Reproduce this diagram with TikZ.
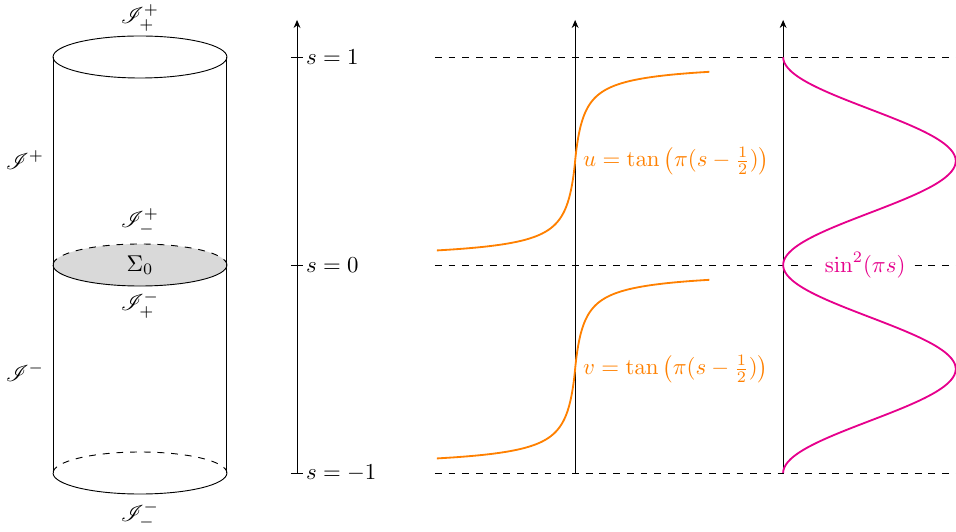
\documentclass[tikz,border=0pt]{standalone}
\usepackage{amsmath}
\usepackage{amssymb}
\usepackage{mathrsfs}
\definecolor{myOrange}{RGB}{255,128,0}
\definecolor{myPink}{RGB}{230,0,140}
\usetikzlibrary{arrows.meta, positioning, calc}

\begin{document}
\begin{tikzpicture}[x=3.2cm, y=3.2cm,
  >={Stealth[length=3.5pt, width=3pt]},
  axis/.style={->, thin},
  guide/.style={dashed, thin},
  ring/.style={thin},
  lbl/.style={inner sep=2pt},
  tancurve/.style={myOrange, thick, domain=-0.43:0.43, samples=160, smooth},
  sincurve/.style={myPink, thick, domain=-1:1, samples=150, smooth}]
  \useasboundingbox (-1.428,-1.279) rectangle (3.168,1.274);

  % cylinder
  \def\cx{-0.755} \def\rx{0.418} \def\ry{0.101}
  \draw[ring] (\cx,1) ellipse [x radius=\rx, y radius=\ry];
  \fill[gray!30] (\cx,0) ellipse [x radius=\rx, y radius=\ry];
  \draw[ring] (\cx-\rx,0) arc[start angle=180, end angle=360, x radius=\rx, y radius=\ry];
  \draw[ring, dashed] (\cx+\rx,0) arc[start angle=0, end angle=180, x radius=\rx, y radius=\ry];
  \draw[ring] (\cx-\rx,-1) arc[start angle=180, end angle=360, x radius=\rx, y radius=\ry];
  \draw[ring, dashed] (\cx+\rx,-1) arc[start angle=0, end angle=180, x radius=\rx, y radius=\ry];
  \draw[ring] (\cx-\rx,1) -- (\cx-\rx,-1);
  \draw[ring] (\cx+\rx,1) -- (\cx+\rx,-1);

  \node[lbl] (scriTop) at (\cx,1.188) {$\mathscr{I}^+_+$};
  \node[lbl] (scriPlus) at (-1.308,0.505) {$\mathscr{I}^+$};
  \node[lbl] (scriMidUp) at (\cx,0.207) {$\mathscr{I}^+_-$};
  \node[lbl] (sigma) at (\cx,0) {$\Sigma_0$};
  \node[lbl] (scriMidDn) at (\cx,-0.192) {$\mathscr{I}^-_+$};
  \node[lbl] (scriMinus) at (-1.308,-0.514) {$\mathscr{I}^-$};
  \node[lbl] (scriBot) at (\cx,-1.202) {$\mathscr{I}^-_-$};

  % s axis
  \coordinate (sLow) at (0,-1);
  \coordinate (sTop) at (0,1.178);
  \draw[axis] (sLow) -- (sTop);
  \foreach \s/\name in {1/sOne, 0/sZero, -1/sMinus} {
    \draw (-0.03,\s) -- (0.03,\s);
    \node[anchor=west, inner sep=1pt] (\name) at (0.03,\s) {$s=\s$};
  }

  % guides
  \foreach \s/\name in {1/gOne, 0/gZero, -1/gMinus} {
    \coordinate (\name L) at (0.663,\s);
    \coordinate (\name R) at (3.168,\s);
    \draw[guide] (\name L) -- (\name R);
  }

  % u, v axis
  \coordinate (uvLow) at (1.337,-1);
  \coordinate (uvTop) at (1.337,1.178);
  \draw[axis] (uvLow) -- (uvTop);
  \draw[tancurve] plot ({1.337+(6.26*tan(180*\x)+5.51*tan(180*\x)*abs(tan(180*\x)))/208}, {0.5+\x});
  \draw[tancurve] plot ({1.337+(6.26*tan(180*\x)+5.51*tan(180*\x)*abs(tan(180*\x)))/208}, {-0.5+\x});
  \node[anchor=west, text=myOrange] (uLbl) at (1.337,0.5)
    {$u=\tan\big(\pi(s-\tfrac{1}{2})\big)$};
  \node[anchor=west, text=myOrange] (vLbl) at (1.337,-0.5)
    {$v=\tan\big(\pi(s-\tfrac{1}{2})\big)$};

  % sin^2 axis
  \coordinate (wLow) at (2.337,-1);
  \coordinate (wTop) at (2.337,1.178);
  \draw[axis] (wLow) -- (wTop);
  \draw[sincurve] plot ({2.337+0.83*sin(180*\x)^2}, {\x});
  \node[fill=white, text=myPink, inner sep=3pt] (wLbl) at (2.731,0) {$\sin^2(\pi s)$};
\end{tikzpicture}
\end{document}
